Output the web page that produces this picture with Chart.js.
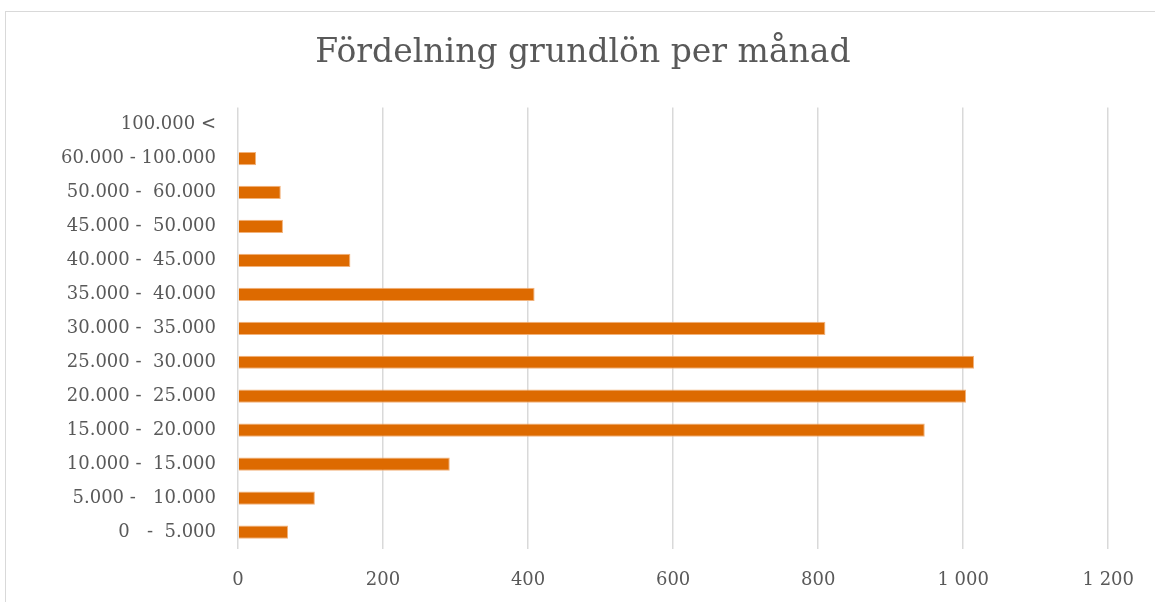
<!DOCTYPE html>
<html>
<head>
<meta charset="utf-8">
<script src="https://cdn.jsdelivr.net/npm/chart.js@4/dist/chart.umd.min.js"></script>
<style>
  html, body { margin: 0; padding: 0; background: #fff; overflow: hidden; }
  #frame { position: absolute; left: 5px; top: 11px; width: 1200px; height: 640px; border: 1px solid #d9d9d9; }
  #wrap { position: absolute; left: 0; top: 0; width: 1155px; height: 602px; }
</style>
</head>
<body>
<div id="frame"></div>
<div id="wrap"><canvas id="myChart"></canvas></div>
<script>
  const categories = [
    "0   -  5.000", "5.000 -   10.000", "10.000 -  15.000", "15.000 -  20.000",
    "20.000 -  25.000", "25.000 -  30.000", "30.000 -  35.000", "35.000 -  40.000",
    "40.000 -  45.000", "45.000 -  50.000", "50.000 -  60.000", "60.000 - 100.000",
    "100.000 <"
  ];
  const antal = [69, 106, 292, 947, 1004, 1015, 810, 409, 155, 62, 59, 25, 0];
  const xTicks = [0, 200, 400, 600, 800, 1000, 1200];

  const textColor = "#595959";
  const font = "'DejaVu Serif', 'Liberation Serif', serif";

  const data = {
    labels: categories,
    datasets: [{
      label: "Antal",
      data: antal,
      backgroundColor: "#dd6a00",
      borderColor: "#f2b27a",
      borderWidth: 1,
      barPercentage: 0.39,
      categoryPercentage: 1
    }]
  };

  const config = {
    type: 'bar',
    data: data,
    options: {
      indexAxis: 'y',
      responsive: true,
      maintainAspectRatio: false,
      animation: false,
      // left padding pushes the title centre right like the original; y-axis width compensates
      layout: { padding: { left: 54, right: 43, top: 34, bottom: 0 } },
      plugins: {
        legend: { display: false },
        tooltip: { enabled: false },
        title: {
          display: true,
          text: "Fördelning grundlön per månad",
          color: textColor,
          font: { family: font, size: 33, weight: 'normal' },
          padding: { top: 0, bottom: 34 }
        }
      },
      scales: {
        x: {
          min: 0,
          max: 1200,
          afterBuildTicks: s => { s.ticks = xTicks.map(v => ({ value: v })); },
          afterFit: s => { s.height = 53; },
          ticks: {
            color: textColor,
            font: { family: font, size: 18 },
            padding: 21,
            callback: v => v >= 1000 ? Math.floor(v / 1000) + " " + String(v % 1000).padStart(3, "0") : String(v)
          },
          grid: { color: "#d9d9d9", lineWidth: 1.5, drawTicks: false },
          border: { display: false }
        },
        y: {
          reverse: true,
          afterFit: s => { s.width = 184; },
          ticks: {
            color: textColor,
            font: { family: font, size: 18 },
            padding: 22
          },
          grid: { display: false, drawTicks: false },
          border: { display: false }
        }
      }
    }
  };

  const ctx = document.getElementById('myChart').getContext('2d');
  const myChart = new Chart(ctx, config);
</script>
</body>
</html>
